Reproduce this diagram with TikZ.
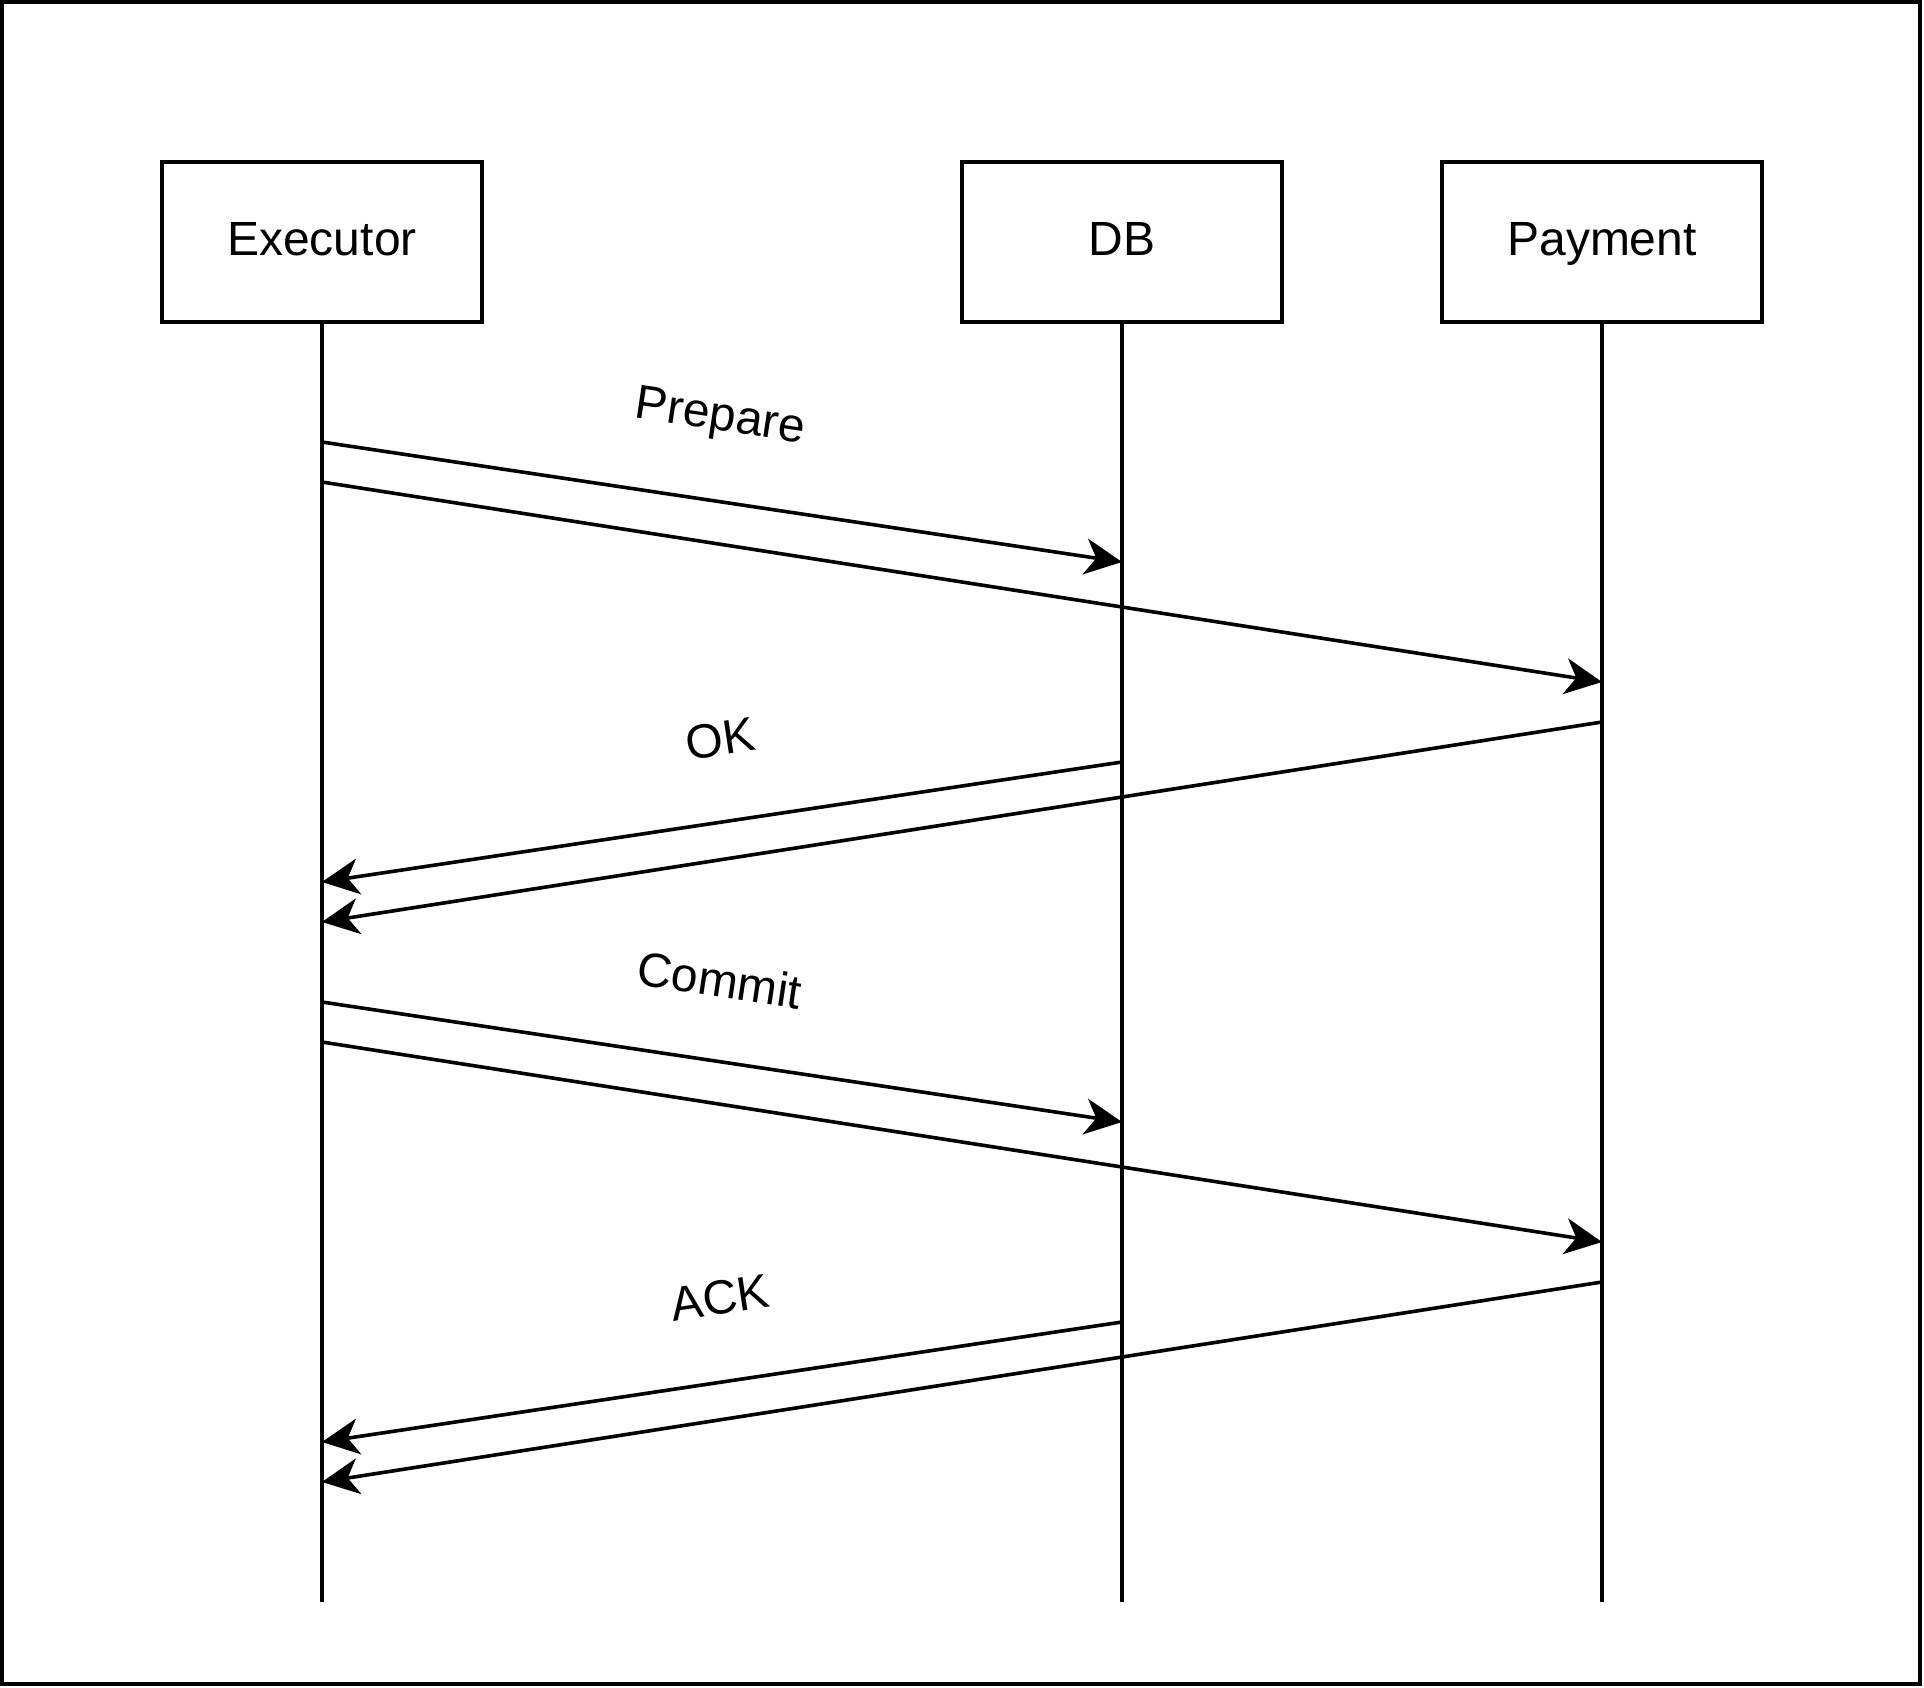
\documentclass[tikz,border=0pt]{standalone}
\usepackage{fontspec}
\setmainfont{Liberation Sans}
\usetikzlibrary{arrows.meta}

\tikzset{
  actor/.style={draw, line width=1.8pt, minimum width=160pt, minimum height=80pt,
    inner sep=0pt, text height=13.5pt, text depth=0pt, font=\fontsize{24}{28}\selectfont},
  lifeline/.style={line width=1.8pt},
  msg/.style={line width=1.8pt, -{Stealth[length=18.5pt,width=18pt,inset=5.5pt]}},
  msglabel/.style={font=\fontsize{24}{28}\selectfont, inner sep=0pt}
}

\begin{document}
\begin{tikzpicture}[x=1pt,y=-1pt]

  \useasboundingbox (0,0) rectangle (962,844);
  \draw[line width=1.8pt] (1,1) rectangle (960,842);

  \begin{scope}[shift={(1,1)}]
  % the three participants
  \node[actor] (executor) at (160,120) {Executor};
  \node[actor] (db) at (560,120) {DB};
  \node[actor] (payment) at (800,120) {Payment};

  % lifelines
  \coordinate (executor-end) at (160,800);
  \coordinate (db-end) at (560,800);
  \coordinate (payment-end) at (800,800);
  \draw[lifeline] (executor) -- (executor-end);
  \draw[lifeline] (db) -- (db-end);
  \draw[lifeline] (payment) -- (payment-end);

  %% Prepare: executor to both
  \coordinate (prep-e1) at (160,220);
  \coordinate (prep-db) at (560,280);
  \coordinate (prep-e2) at (160,240);
  \coordinate (prep-pay) at (800,340);
  \draw[msg] (prep-e1) -- (prep-db);
  \draw[msg] (prep-e2) -- (prep-pay);
  \node[msglabel, rotate=-8.53] (prepare) at (359,208.5) {Prepare};

  %% OK: both back to executor
  \coordinate (ok-db) at (560,380);
  \coordinate (ok-e1) at (160,440);
  \coordinate (ok-pay) at (800,360);
  \coordinate (ok-e2) at (160,460);
  \draw[msg] (ok-db) -- (ok-e1);
  \draw[msg] (ok-pay) -- (ok-e2);
  \node[msglabel, rotate=8.53] (ok) at (359,368.5) {OK};

  %% Commit: executor to both
  \coordinate (com-e1) at (160,500);
  \coordinate (com-db) at (560,560);
  \coordinate (com-e2) at (160,520);
  \coordinate (com-pay) at (800,620);
  \draw[msg] (com-e1) -- (com-db);
  \draw[msg] (com-e2) -- (com-pay);
  \node[msglabel, rotate=-8.53] (commit) at (359,489) {Commit};

  %% ACK: both back to executor
  \coordinate (ack-db) at (560,660);
  \coordinate (ack-e1) at (160,720);
  \coordinate (ack-pay) at (800,640);
  \coordinate (ack-e2) at (160,740);
  \draw[msg] (ack-db) -- (ack-e1);
  \draw[msg] (ack-pay) -- (ack-e2);
  \node[msglabel, rotate=8.53] (ack) at (359,648) {ACK};
  \end{scope}

\end{tikzpicture}
\end{document}
